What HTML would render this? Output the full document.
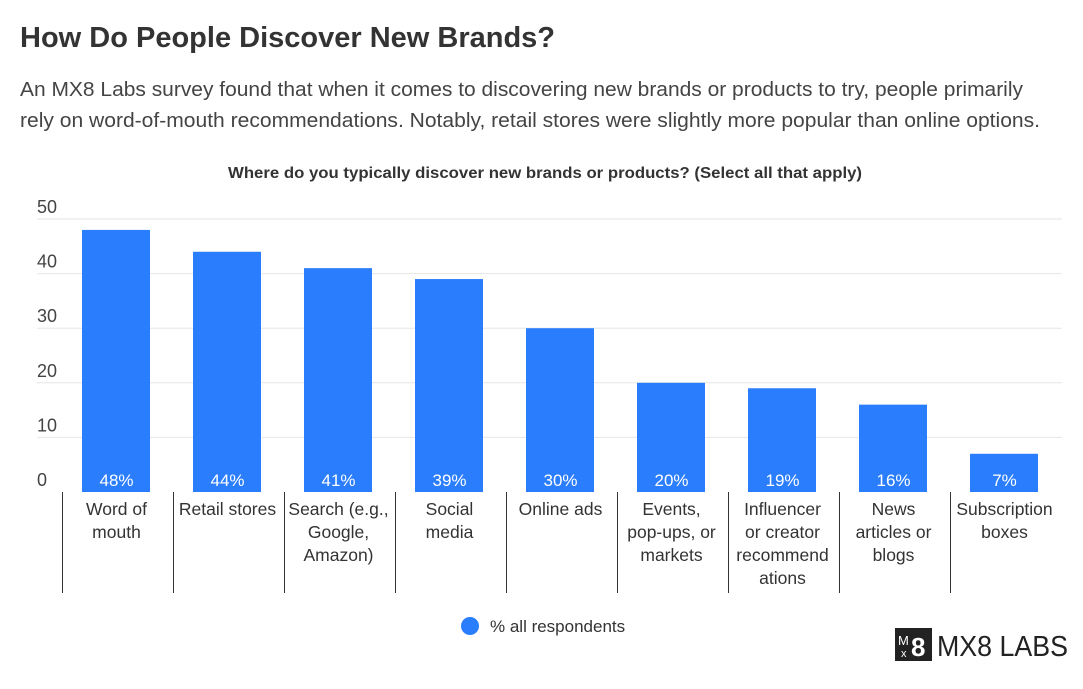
<!DOCTYPE html>
<html><head><meta charset="utf-8"><style>
body{margin:0;width:1083px;height:689px;background:#fff;font-family:"Liberation Sans",sans-serif;overflow:hidden;position:relative}
.t{position:absolute;left:20px;top:22px;font-size:29px;font-weight:bold;color:#333}
</style></head><body>
<div class="t">How Do People Discover New Brands?</div>
<svg id="c" width="1083" height="689" style="position:absolute;left:0;top:0">
<g font-size="20" fill="#444">
<text x="20" y="96" textLength="1003" lengthAdjust="spacingAndGlyphs">An MX8 Labs survey found that when it comes to discovering new brands or products to try, people primarily</text>
<text x="20" y="127" textLength="1020" lengthAdjust="spacingAndGlyphs">rely on word-of-mouth recommendations. Notably, retail stores were slightly more popular than online options.</text>
</g>
<text x="545" y="178" text-anchor="middle" font-size="15.5" font-weight="bold" fill="#333" textLength="634" lengthAdjust="spacingAndGlyphs">Where do you typically discover new brands or products? (Select all that apply)</text>
<g id="g"></g>
<circle cx="470" cy="626" r="9" fill="#2a7dfc"/>
<text x="490" y="632" font-size="17" fill="#333">% all respondents</text>
<g>
<rect x="895" y="628" width="37" height="33" fill="#222"/>
<text x="898" y="645" font-size="13" fill="#fff">M</text>
<text x="901" y="657" font-size="11" fill="#fff">x</text>
<text x="911" y="656" font-size="26" font-weight="bold" fill="#fff">8</text>
<text x="937" y="656" font-size="29" fill="#222" textLength="131" lengthAdjust="spacingAndGlyphs">MX8 LABS</text>
</g>
</svg>
<script>
const categories=[["Word of","mouth"],["Retail stores"],["Search (e.g.,","Google,","Amazon)"],["Social","media"],["Online ads"],["Events,","pop-ups, or","markets"],["Influencer","or creator","recommend","ations"],["News","articles or","blogs"],["Subscription","boxes"]];
const values=[48,44,41,39,30,20,19,16,7];
const yTicks=[0,10,20,30,40,50];
const NS="http://www.w3.org/2000/svg";
const g=document.getElementById('g');
const L=62,W=111,Y0=492,PX=5.46;
const y=v=>Y0-v*PX;
const x=i=>L+i*W;
function mk(t,a){const e=document.createElementNS(NS,t);for(const k in a)e.setAttribute(k,a[k]);g.appendChild(e);return e;}
yTicks.forEach(v=>{
  if(v>0){const l=mk('line',{x1:37,x2:1062,y1:y(v),y2:y(v),stroke:'#e6e6e6'});
  
  }
  const t=mk('text',{x:37,y:y(v)-6,'font-size':18,fill:'#444'});t.textContent=v;
  
  
});
values.forEach((v,i)=>{
  const r=mk('rect',{x:x(i)+20,y:y(v),width:68,height:v*PX,fill:'#2a7dfc'});
  
  
  const t=mk('text',{x:x(i)+W/2-1,y:486,'text-anchor':'middle','font-size':17,fill:'#fff'});t.textContent=v+'%';
  
  
  const s=mk('line',{x1:x(i)+0.5,x2:x(i)+0.5,y1:Y0,y2:593,stroke:'#333'});
  
  
  categories[i].forEach((ln,j)=>{
    const c=mk('text',{x:x(i)+W/2-1,y:515+j*23,'text-anchor':'middle','font-size':17.5,fill:'#333'});c.textContent=ln;
    
    
  });
});
</script>
</body></html>
